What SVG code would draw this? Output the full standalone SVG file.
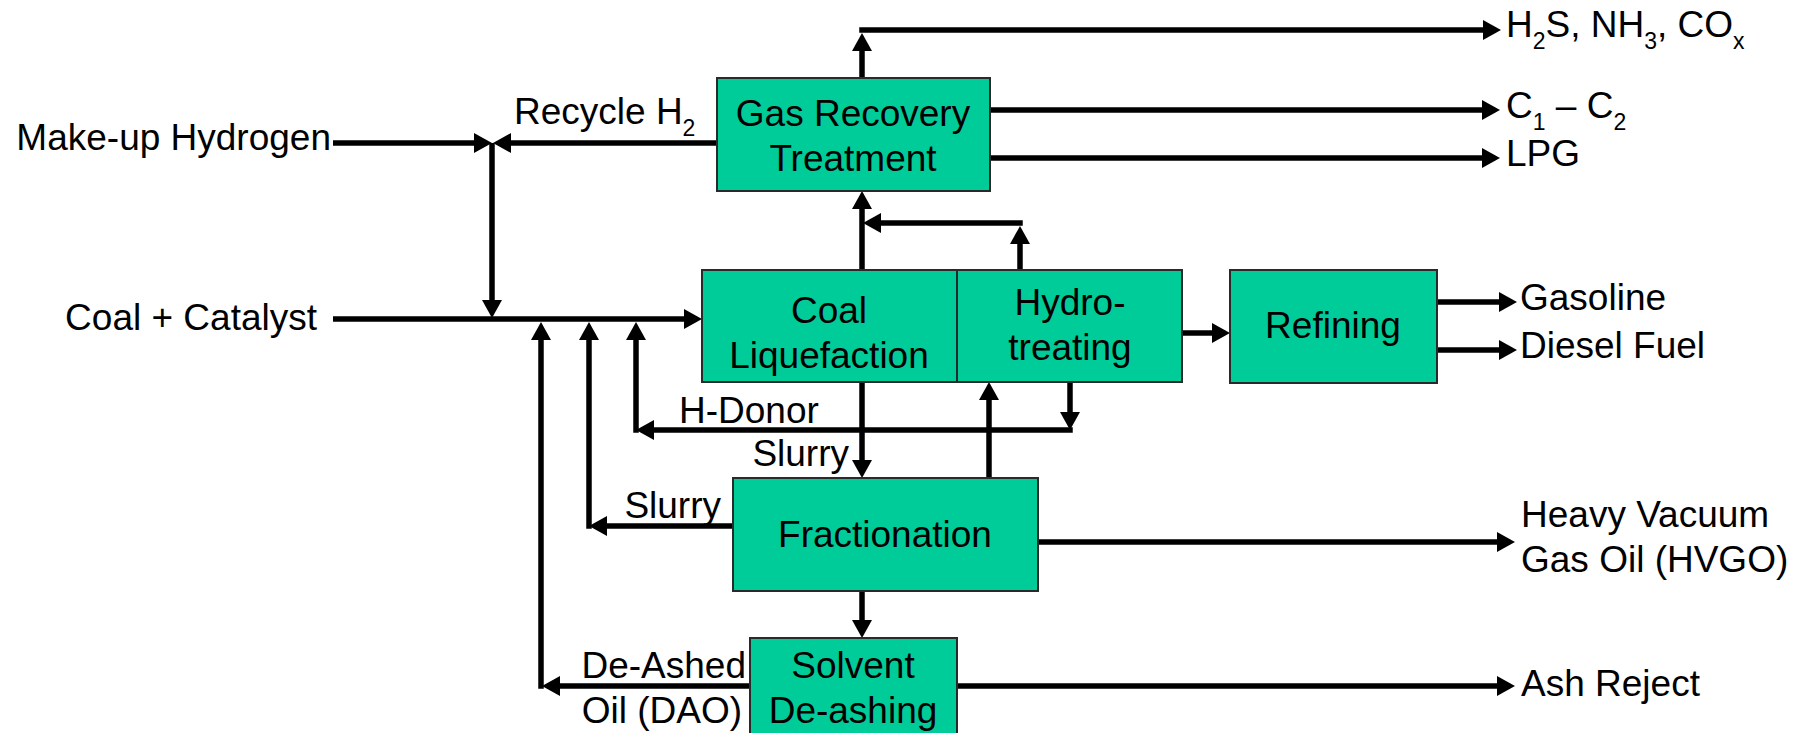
<svg xmlns="http://www.w3.org/2000/svg" width="1804" height="733" viewBox="0 0 1804 733">
<style>
text{font-family:"Liberation Sans",Arial,sans-serif;font-size:37px;fill:#000}
.c{text-anchor:middle}
.e{text-anchor:end}
.sub{font-size:23px}
.box{fill:#00CC99;stroke:#2a2a2a;stroke-width:2}
.ln{fill:none;stroke:#000;stroke-width:5.5}
.ar{marker-end:url(#ah)}
</style>
<defs>
<marker id="ah" markerUnits="userSpaceOnUse" viewBox="0 0 18 20" refX="12" refY="10" markerWidth="18" markerHeight="20" orient="auto">
<path d="M0,0 L18,10 L0,20 Z" fill="#000"/>
</marker>
</defs>
<g id="connectors">
<line class="ln ar" x1="333" y1="143" x2="486" y2="143"/>
<line class="ln ar" x1="717" y1="143" x2="499" y2="143"/>
<line class="ln ar" x1="492" y1="143" x2="492" y2="312"/>
<line class="ln ar" x1="333" y1="319" x2="696" y2="319"/>
<line class="ln ar" x1="750" y1="686" x2="548" y2="686"/>
<line class="ln ar" x1="541" y1="688.75" x2="541" y2="328"/>
<line class="ln ar" x1="733" y1="526" x2="595" y2="526"/>
<line class="ln ar" x1="589" y1="528.75" x2="589" y2="328"/>
<line class="ln ar" x1="1070" y1="382" x2="1070" y2="424"/>
<line class="ln ar" x1="1072.75" y1="430" x2="642" y2="430"/>
<line class="ln ar" x1="636" y1="432.75" x2="636" y2="328"/>
<line class="ln ar" x1="862" y1="382" x2="862" y2="472"/>
<line class="ln ar" x1="989" y1="478" x2="989" y2="388"/>
<line class="ln ar" x1="862" y1="270" x2="862" y2="197"/>
<line class="ln ar" x1="1020" y1="270" x2="1020" y2="232"/>
<line class="ln ar" x1="1022.75" y1="223" x2="869" y2="223"/>
<line class="ln ar" x1="862" y1="78" x2="862" y2="39"/>
<line class="ln ar" x1="859.25" y1="30" x2="1495" y2="30"/>
<line class="ln ar" x1="990" y1="110" x2="1494" y2="110"/>
<line class="ln ar" x1="990" y1="158" x2="1494" y2="158"/>
<line class="ln ar" x1="1182" y1="333" x2="1224" y2="333"/>
<line class="ln ar" x1="1437" y1="302" x2="1511" y2="302"/>
<line class="ln ar" x1="1437" y1="350" x2="1511" y2="350"/>
<line class="ln ar" x1="1038" y1="542" x2="1509" y2="542"/>
<line class="ln ar" x1="957" y1="686" x2="1509" y2="686"/>
<line class="ln ar" x1="862" y1="591" x2="862" y2="632"/>
</g>
<g id="gas-recovery">
<rect class="box" x="717" y="78" width="273" height="113"/>
<text class="c" x="853" y="126">Gas Recovery</text>
<text class="c" x="853" y="171">Treatment</text>
</g>
<g id="coal-liquefaction">
<rect class="box" x="702" y="270" width="255" height="112"/>
<text class="c" x="829" y="323">Coal</text>
<text class="c" x="829" y="368">Liquefaction</text>
</g>
<g id="hydrotreating">
<rect class="box" x="957" y="270" width="225" height="112"/>
<text class="c" x="1070" y="315">Hydro-</text>
<text class="c" x="1070" y="360">treating</text>
</g>
<g id="refining">
<rect class="box" x="1230" y="270" width="207" height="113"/>
<text class="c" x="1333" y="338">Refining</text>
</g>
<g id="fractionation">
<rect class="box" x="733" y="478" width="305" height="113"/>
<text class="c" x="885" y="547">Fractionation</text>
</g>
<g id="solvent-deashing">
<rect class="box" x="750" y="638" width="207" height="110"/>
<text class="c" x="853" y="678">Solvent</text>
<text class="c" x="853" y="723">De-ashing</text>
</g>
<g id="labels">
<text class="e" x="331" y="150">Make-up Hydrogen</text>
<text class="e" x="317" y="330">Coal + Catalyst</text>
<text x="514" y="124">Recycle H<tspan class="sub" dy="12">2</tspan></text>
<text x="1506" y="37">H<tspan class="sub" dy="12">2</tspan><tspan dy="-12">S, NH</tspan><tspan class="sub" dy="12">3</tspan><tspan dy="-12">, CO</tspan><tspan class="sub" dy="12">x</tspan></text>
<text x="1506" y="118">C<tspan class="sub" dy="12">1</tspan><tspan dy="-12"> – C</tspan><tspan class="sub" dy="12">2</tspan></text>
<text x="1506" y="166">LPG</text>
<text x="1520" y="310">Gasoline</text>
<text x="1520" y="358">Diesel Fuel</text>
<text x="679" y="423">H-Donor</text>
<text class="e" x="849" y="466">Slurry</text>
<text class="e" x="721" y="518">Slurry</text>
<text x="1521" y="527">Heavy Vacuum</text>
<text x="1521" y="572">Gas Oil (HVGO)</text>
<text class="e" x="746" y="678">De-Ashed</text>
<text class="e" x="742" y="723">Oil (DAO)</text>
<text x="1521" y="696">Ash Reject</text>
</g>
</svg>
